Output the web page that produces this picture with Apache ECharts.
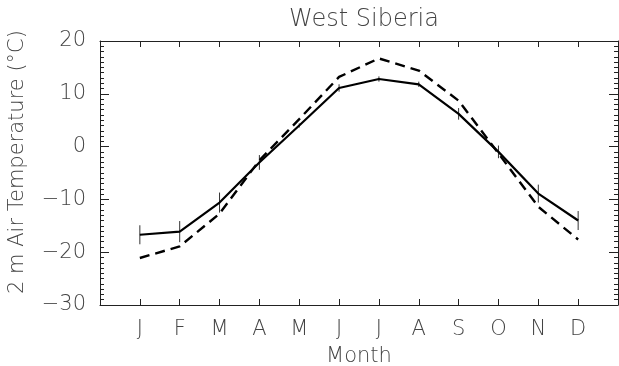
<!DOCTYPE html>
<html>
<head>
<meta charset="utf-8">
<script src="https://cdn.jsdelivr.net/npm/echarts@6/dist/echarts.min.js"></script>
<style>html,body{margin:0;padding:0;background:#fff}#c{width:619px;height:366px}</style>
</head>
<body>
<div id="c"></div>
<script>
var months = ['J','F','M','A','M','J','J','A','S','O','N','D'];
var solidTemp = [-16.7,-16.1,-10.6,-3.0,4.0,11.1,12.8,11.8,6.2,-1.0,-8.9,-14.0];
var dashedTemp = [-21.1,-18.9,-12.7,-2.6,5.2,13.2,16.7,14.4,8.7,-1.3,-11.4,-17.6];
var errHalf = [1.8,2.0,1.9,1.4,0.4,0.7,0.5,0.5,1.1,1.2,1.7,1.8];
var yTicks = [-30,-20,-10,0,10,20];

var FONT = 'DejaVu Sans';
var FW = 200;
var TXT = '#444';
function pairs(arr){ return arr.map(function(v,i){ return [i+1, v]; }); }
var errData = errHalf.map(function(e,i){ return [i+1, solidTemp[i]-e, solidTemp[i]+e]; });

var chart = echarts.init(document.getElementById('c'));
var axisLine = {show:true, onZero:false, lineStyle:{color:'#222', width:1}};
chart.setOption({
  animation:false,
  title:{text:'West Siberia', left:359, textAlign:'center', top:3,
    textStyle:{fontFamily:FONT, fontWeight:FW, fontSize:24, color:TXT}},
  grid:{left:100, right:1, top:41, bottom:61, containLabel:false, outerBoundsMode:'none'},
  xAxis:[{
    type:'value', min:0, max:13, interval:1, position:'bottom',
    name:'Month', nameLocation:'middle', nameGap:41,
    nameTextStyle:{fontFamily:FONT, fontWeight:FW, fontSize:21, color:TXT},
    axisLine:axisLine,
    axisTick:{show:true, inside:true, length:6, lineStyle:{color:'#222'}},
    axisLabel:{margin:14, fontFamily:FONT, fontWeight:FW, fontSize:21, color:TXT,
      formatter:function(v){ return (v>=1 && v<=12) ? months[v-1] : ''; }},
    splitLine:{show:false}
  },{
    type:'value', min:0, max:13, interval:1, position:'top',
    axisLine:axisLine,
    axisTick:{show:true, inside:true, length:6, lineStyle:{color:'#222'}},
    axisLabel:{show:false}, splitLine:{show:false}
  }],
  yAxis:[{
    type:'value', min:yTicks[0], max:yTicks[yTicks.length-1], interval:10, position:'left',
    name:'2 m Air Temperature (°C)', nameLocation:'middle', nameGap:72, nameRotate:90,
    nameTextStyle:{fontFamily:FONT, fontWeight:FW, fontSize:21, color:TXT, padding:[0,0,0,22]},
    axisLine:axisLine,
    axisTick:{show:true, inside:true, length:9, lineStyle:{color:'#222'}},
    minorTick:{show:true, splitNumber:10, length:4, lineStyle:{color:'#222'}},
    axisLabel:{margin:14, fontFamily:FONT, fontWeight:FW, fontSize:21, color:TXT,
      formatter:function(v){ return String(v).replace('-', '\u2212'); }},
    splitLine:{show:false}, minorSplitLine:{show:false}
  },{
    type:'value', min:yTicks[0], max:yTicks[yTicks.length-1], interval:10, position:'right',
    axisLine:axisLine,
    axisTick:{show:true, inside:true, length:9, lineStyle:{color:'#222'}},
    minorTick:{show:true, splitNumber:10, length:4, lineStyle:{color:'#222'}},
    axisLabel:{show:false}, splitLine:{show:false}
  }],
  series:[{
    type:'line', data:pairs(dashedTemp), symbol:'none',
    lineStyle:{color:'#000', width:2.4, type:[10,6]}
  },{
    type:'line', data:pairs(solidTemp), symbol:'none',
    lineStyle:{color:'#000', width:2.2, type:'solid'}
  },{
    type:'custom', data:errData,
    renderItem:function(params, api){
      var x = api.value(0);
      var p1 = api.coord([x, api.value(1)]);
      var p2 = api.coord([x, api.value(2)]);
      return {type:'line', shape:{x1:p1[0], y1:p1[1], x2:p2[0], y2:p2[1]},
        style:{stroke:'#333', lineWidth:1}};
    }
  }]
});
</script>
</body>
</html>
